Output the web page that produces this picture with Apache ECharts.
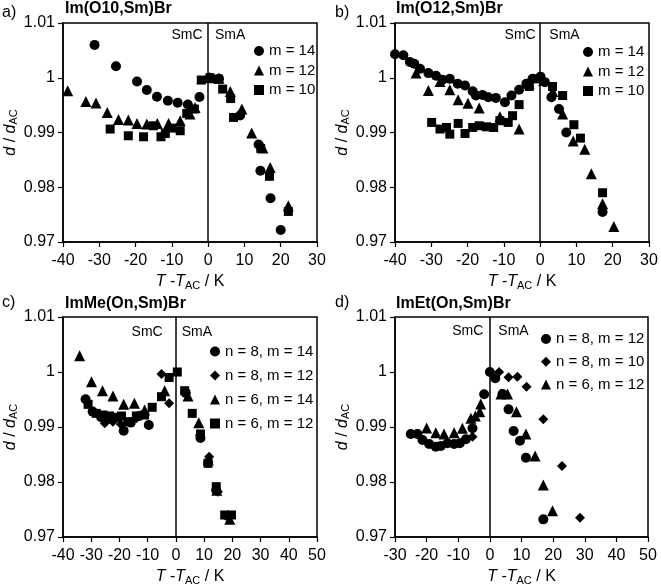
<!DOCTYPE html>
<html><head><meta charset="utf-8">
<script src="https://cdn.jsdelivr.net/npm/echarts@6/dist/echarts.min.js"></script>
<style>html,body{margin:0;padding:0;background:#fff}#c{width:661px;height:587px}</style>
</head><body><div id="c"></div>
<script>
// ---- data ----
const panelTitles = ['Im(O10,Sm)Br', 'Im(O12,Sm)Br', 'ImMe(On,Sm)Br', 'ImEt(On,Sm)Br'];
const panelLetters = ['a)', 'b)', 'c)', 'd)'];
const yTicks = [0.97, 0.98, 0.99, 1, 1.01];
const xRanges = [[-40, 30], [-40, 30], [-40, 50], [-30, 50]];

// a) Im(O10,Sm)Br
const aM14_x = [-31.3,-25.4,-19.6,-16.9,-14.1,-11.1,-8.4,-5.6,-2.4,0.5,3.0,8.8,13.9,14.4,17.2,20.0];
const aM14_y = [1.006,1.0021,0.9993,0.99775,0.99653,0.9958,0.99543,0.9951,0.9965,1.0,0.9998,0.9931,0.9878,0.983,0.978,0.9722];
const aM12_x = [-38.7,-33.7,-30.9,-27.8,-24.7,-22.0,-19.6,-16.9,-14.0,-10.9,-7.7,-5.0,-3.6,0.5,3.0,6.1,9.3,12.0,15.1,17.1,22.1];
const aM12_y = [0.99763,0.99567,0.99537,0.99366,0.99238,0.99227,0.99166,0.99154,0.99166,0.99166,0.99215,0.99336,0.99458,1.0,0.9999,0.9975,0.9943,0.9899,0.98716,0.9836,0.97662];
const aM10_x = [-27.0,-22.0,-17.8,-15.1,-13.0,-11.8,-10.0,-7.7,-5.9,-3.8,-1.9,0.5,2.8,4.0,6.2,7.0,14.5,16.9,22.1];
const aM10_y = [0.99063,0.9894,0.98922,0.99123,0.98922,0.98983,0.9908,0.99032,0.99348,0.99428,0.99958,1.0,0.99976,0.99793,0.9962,0.99275,0.98709,0.982,0.97558];

// b) Im(O12,Sm)Br
const bM14_x = [-40,-37.7,-35.9,-34.7,-33.1,-30.8,-28.7,-26.9,-24.9,-22.7,-20.7,-18.6,-17.7,-15.9,-14.3,-12.2,-9.7,-7.9,-5.8,-3.8,-2.1,0.1,1.3,3.1,5.2,7.2,17.2];
const bM14_y = [1.00428,1.0041,1.00287,1.00257,1.00165,1.00085,1.00037,0.99963,0.9998,0.9989,0.99858,0.99754,0.99675,0.99687,0.99643,0.99632,0.99551,0.99675,0.9978,0.9989,0.99982,1.0002,0.9992,0.99643,0.9943,0.9900,0.97548];
const bM12_x = [-34.2,-30.8,-27.6,-24.9,-22.6,-19.9,-16.8,-11.1,-5.8,-3.0,1.0,3.5,6.2,9.1,12.3,14.1,17.2,20.3];
const bM12_y = [1.00085,0.99767,0.99932,0.9978,0.99596,0.99533,0.99448,0.99289,0.99063,0.999,0.9995,0.9975,0.99338,0.98847,0.98695,0.98246,0.9770,0.97285];
const bM10_x = [-29.9,-27.6,-25.8,-24.9,-22.6,-20.7,-18.6,-16.8,-14.8,-12.8,-11.1,-8.8,-7.6,-5.8,-3.0,-1.0,3.4,6.2,9.3,11.1,17.2];
const bM10_y = [0.99184,0.99063,0.99092,0.9897,0.99166,0.98982,0.99092,0.99123,0.99104,0.99092,0.99215,0.99184,0.99307,0.99509,0.9984,0.9998,0.9984,0.99675,0.99142,0.98897,0.9790];

// c) ImMe(On,Sm)Br
const cN8M14_x = [-32.0,-29.5,-26.5,-23.0,-18.5,-16.0,-13.0,-9.6,3.5,8.7,11.4,14.3,18.5];
const cN8M14_y = [0.99503,0.9928,0.9918,0.9915,0.98933,0.9908,0.992,0.99036,0.9962,0.9880,0.9835,0.9785,0.9738];
const cN8M12_x = [-25.2,-22.3,-19.5,-14.0,-5.1,-2.4,3.3,8.5,11.8,14.9,19.0];
const cN8M12_y = [0.99067,0.99097,0.9905,0.99158,0.99964,0.9943,0.9963,0.9885,0.9846,0.97824,0.9738];
const cN6M14_x = [-34.1,-29.9,-26.0,-22.3,-18.5,-14.7,-11.1,-4.0,4.3,8.1,11.5,14.5,19.1];
const cN6M14_y = [1.00297,0.99824,0.9966,0.99564,0.99412,0.9943,0.99309,0.9966,0.99564,0.99079,0.9840,0.9785,0.97322];
const cN6M12_x = [-31.1,-28.2,-25.8,-23.5,-21.1,-19.3,-17.0,-14.0,-11.1,-8.4,-5.1,-2.4,0.5,3.1,5.8,8.7,11.4,14.3,17.3,19.7];
const cN6M12_y = [0.99412,0.99248,0.99218,0.992,0.99176,0.992,0.99097,0.992,0.99218,0.99358,0.99551,0.9990,1.0,0.9966,0.99248,0.98873,0.9834,0.97915,0.974,0.974];

// d) ImEt(On,Sm)Br
const dN8M12_x = [-25.0,-22.9,-21.3,-19.2,-17.1,-15.5,-13.4,-11.3,-9.5,-7.6,-5.5,-1.8,0,1.7,4.0,5.9,7.5,9.5,11.4,16.9];
const dN8M12_y = [0.98873,0.98873,0.98764,0.98691,0.98642,0.98655,0.98703,0.98691,0.98703,0.98776,0.98976,0.99594,1.0,0.99885,0.996,0.99321,0.98927,0.98751,0.98442,0.97321];
const dN8M10_x = [-5.5,2.9,5.9,8.7,11.6,16.9,22.8,28.5];
const dN8M10_y = [0.98824,1.0,0.99903,0.99915,0.99733,0.9914,0.98291,0.97351];
const dN6M12_x = [-20.0,-17.1,-14.5,-11.3,-8.7,-6.0,-4.6,-3.2,-2.9,3.5,5.6,8.4,11.4,14.3,16.9,19.8];
const dN6M12_y = [0.98982,0.98897,0.98873,0.98897,0.98976,0.99158,0.992,0.99279,0.99418,0.996,0.996,0.99279,0.98873,0.98473,0.97945,0.97479];

// ---- chart ----
const FONT = "'Liberation Sans', Arial, sans-serif";
const zip = (xs, ys) => xs.map((x, i) => [x, ys[i]]);
const symSize = {circle: 10, triangle: 11, rect: 9, diamond: 10};

const seriesDefs = [
  {p:0, name:'m = 14', sym:'circle', x:aM14_x, y:aM14_y},
  {p:0, name:'m = 12', sym:'triangle', x:aM12_x, y:aM12_y},
  {p:0, name:'m = 10', sym:'rect', x:aM10_x, y:aM10_y},
  {p:1, name:'m = 14', sym:'circle', x:bM14_x, y:bM14_y},
  {p:1, name:'m = 12', sym:'triangle', x:bM12_x, y:bM12_y},
  {p:1, name:'m = 10', sym:'rect', x:bM10_x, y:bM10_y},
  {p:2, name:'n = 8, m = 14', sym:'circle', x:cN8M14_x, y:cN8M14_y},
  {p:2, name:'n = 8, m = 12', sym:'diamond', x:cN8M12_x, y:cN8M12_y},
  {p:2, name:'n = 6, m = 14', sym:'triangle', x:cN6M14_x, y:cN6M14_y},
  {p:2, name:'n = 6, m = 12', sym:'rect', x:cN6M12_x, y:cN6M12_y},
  {p:3, name:'n = 8, m = 12', sym:'circle', x:dN8M12_x, y:dN8M12_y},
  {p:3, name:'n = 8, m = 10', sym:'diamond', x:dN8M10_x, y:dN8M10_y},
  {p:3, name:'n = 6, m = 12', sym:'triangle', x:dN6M12_x, y:dN6M12_y}
];

const grids = [
  {left:63, top:23, width:254, height:219},
  {left:395, top:23, width:254, height:219},
  {left:63, top:317, width:254, height:220},
  {left:395, top:317, width:253, height:220}
];

const rich = {
  it: {fontStyle:'italic', fontSize:16, fontFamily:FONT, color:'#000'},
  n: {fontSize:16, fontFamily:FONT, color:'#000'},
  sub: {fontSize:11, fontFamily:FONT, color:'#000', padding:[7,0,0,0]}
};

const xAxes = xRanges.map((r, i) => ({
  type:'value', gridIndex:i, min:r[0], max:r[1], interval:10,
  axisLine:{show:true, onZero:false, lineStyle:{color:'#000', width:1.5}},
  axisTick:{show:true, inside:false, length:5, lineStyle:{color:'#000', width:1.2}},
  axisLabel:{color:'#000', fontSize:16, fontFamily:FONT, margin:11},
  splitLine:{show:false},
  name:'{it|T}{n| -}{it|T}{sub|AC}{n| / K}', nameLocation:'middle', nameGap:31,
  nameTextStyle:{rich:rich}
}));

const yAxes = grids.map((g, i) => ({
  type:'value', gridIndex:i, min:yTicks[0], max:yTicks[yTicks.length-1], interval:0.01,
  axisLine:{show:true, onZero:false, lineStyle:{color:'#000', width:1.5}},
  axisTick:{show:true, inside:false, length:5, lineStyle:{color:'#000', width:1.2}},
  axisLabel:{color:'#000', fontSize:16, fontFamily:FONT, margin:8,
    formatter: v => String(+(+v).toFixed(2))},
  splitLine:{show:false},
  name:'{it|d}{n| / }{it|d}{sub|AC}', nameLocation:'middle', nameRotate:90, nameGap:43,
  nameTextStyle:{rich:rich}
}));

const series = seriesDefs.map((s, k) => {
  const o = {
    type:'scatter', name:s.name, xAxisIndex:s.p, yAxisIndex:s.p,
    symbol:s.sym, symbolSize:symSize[s.sym],
    itemStyle:{color:'#000', opacity:1},
    data: zip(s.x, s.y), silent:true, z:3
  };
  if (seriesDefs.findIndex(t => t.p === s.p) === k) {
    o.markLine = {silent:true, symbol:['none','none'], label:{show:false},
      lineStyle:{color:'#000', type:'solid', width:1.5}, data:[{xAxis:0}], z:2};
  }
  return o;
});

const legendCommon = {orient:'vertical', itemWidth:10, itemHeight:10, padding:0,
  selectedMode:false, textStyle:{fontSize:15, fontFamily:FONT, color:'#000'}};
const legends = [
  Object.assign({left:254, top:43.5, itemGap:4.5, data:[{name:'m = 14',icon:'circle'},{name:'m = 12',icon:'triangle'},{name:'m = 10',icon:'rect'}]}, legendCommon),
  Object.assign({left:583, top:44.5, itemGap:4.5, data:[{name:'m = 14',icon:'circle'},{name:'m = 12',icon:'triangle'},{name:'m = 10',icon:'rect'}]}, legendCommon),
  Object.assign({left:210, top:344, itemGap:9, data:[{name:'n = 8, m = 14',icon:'circle'},{name:'n = 8, m = 12',icon:'diamond'},{name:'n = 6, m = 14',icon:'triangle'},{name:'n = 6, m = 12',icon:'rect'}]}, legendCommon),
  Object.assign({left:541, top:331.5, itemGap:7.7, data:[{name:'n = 8, m = 12',icon:'circle'},{name:'n = 8, m = 10',icon:'diamond'},{name:'n = 6, m = 12',icon:'triangle'}]}, legendCommon)
];

const letterPos = [[2,5],[335,5],[2,295],[335,295]];
const titlePos = [[65,1],[396,1],[65,296],[396,296]];
const titles = [];
for (let i = 0; i < 4; i++) {
  titles.push({text:panelLetters[i], left:letterPos[i][0], top:letterPos[i][1], padding:0,
    textStyle:{fontSize:16, fontWeight:'normal', fontFamily:FONT, color:'#000'}});
  titles.push({text:panelTitles[i], left:titlePos[i][0], top:titlePos[i][1], padding:0,
    textStyle:{fontSize:16, fontWeight:'bold', fontFamily:FONT, color:'#000'}});
}

const phaseLabels = [
  {x:202.5, y:35, t:'SmC', a:'right'}, {x:215, y:35, t:'SmA', a:'left'},
  {x:535.7, y:35, t:'SmC', a:'right'}, {x:549.3, y:35, t:'SmA', a:'left'},
  {x:162.7, y:331.7, t:'SmC', a:'right'}, {x:181.7, y:331.7, t:'SmA', a:'left'},
  {x:483.3, y:330.7, t:'SmC', a:'right'}, {x:498.3, y:330.7, t:'SmA', a:'left'}
];
const graphic = phaseLabels.map(l => ({
  type:'text', x:l.x, y:l.y, silent:true, z:10,
  style:{text:l.t, fill:'#000', font:'14px ' + FONT, align:l.a, verticalAlign:'middle'}
}));

const chart = echarts.init(document.getElementById('c'), null, {renderer:'canvas'});
chart.setOption({
  animation:false,
  backgroundColor:'#fff',
  title:titles,
  grid:grids.map(g => Object.assign({show:true, borderColor:'#000', borderWidth:1.5, backgroundColor:'transparent'}, g)),
  xAxis:xAxes, yAxis:yAxes, legend:legends, series:series, graphic:graphic
});
</script></body></html>
